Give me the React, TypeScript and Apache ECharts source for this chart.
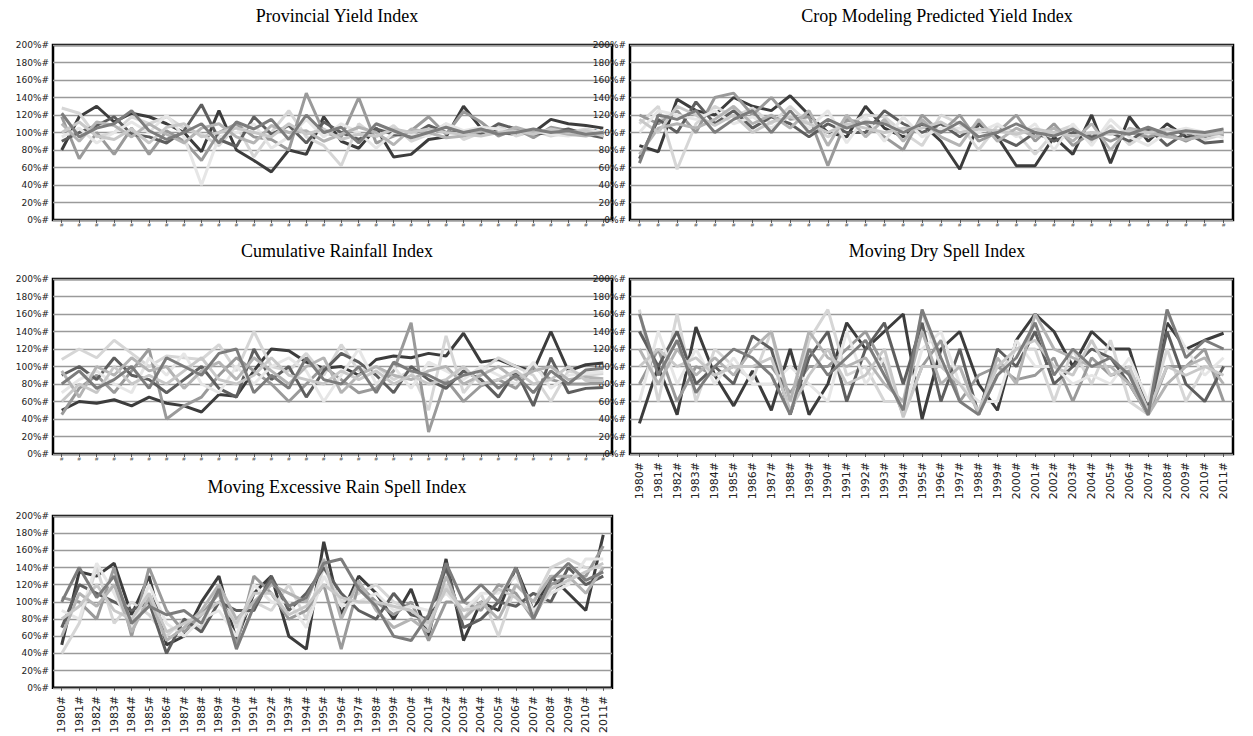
import { useEffect, useRef } from 'react';
import * as echarts from 'echarts';

const years = Array.from({ length: 32 }, (_, i) => String(1980 + i));
const yTicks = [0, 20, 40, 60, 80, 100, 120, 140, 160, 180, 200];

const titles = [
  'Provincial Yield Index',
  'Crop Modeling Predicted Yield Index',
  'Cumulative Rainfall Index',
  'Moving Dry Spell Index',
  'Moving Excessive Rain Spell Index',
];

const provincialYield = [
  [80,118,130,112,122,118,110,100,78,125,80,68,55,80,75,118,90,82,105,72,75,92,95,130,105,100,98,100,115,110,108,105],
  [128,122,95,100,118,110,118,105,98,85,108,72,100,125,95,85,62,110,95,108,90,98,110,92,100,108,96,102,96,100,104,100],
  [118,70,100,75,105,75,102,90,68,100,110,95,92,80,145,100,95,140,88,96,102,118,98,124,112,96,104,94,106,102,100,98],
  [90,100,108,118,98,95,88,102,132,92,84,118,98,108,88,112,100,92,104,98,96,108,100,100,98,110,104,98,100,104,98,94],
  [95,105,88,100,112,100,120,95,40,95,100,110,82,95,115,95,110,100,82,100,98,96,110,102,106,104,100,102,98,96,100,102],
  [110,90,112,108,95,110,98,88,105,110,95,88,108,100,102,90,98,106,100,86,104,100,94,96,102,98,106,100,102,98,96,100],
  [100,112,96,92,104,88,106,110,95,100,105,100,95,110,98,104,92,98,96,104,100,104,100,98,96,100,102,98,104,100,102,96],
  [122,95,105,110,125,102,92,100,110,88,112,104,115,92,120,100,106,88,110,102,94,100,106,100,104,98,100,104,100,102,98,100],
];

const cropModelYield = [
  [85,78,138,125,120,140,130,125,142,120,100,95,130,105,95,110,90,58,110,95,62,62,95,75,120,65,118,90,110,95,95,100],
  [110,130,58,110,130,118,128,110,130,110,95,108,120,118,100,85,120,110,80,108,100,75,100,108,88,108,86,100,96,104,92,98],
  [120,110,125,100,140,145,120,140,115,118,62,115,110,95,80,120,100,120,90,100,120,90,110,85,100,90,100,95,100,90,100,96],
  [70,115,100,135,110,125,105,118,110,95,110,100,100,125,110,100,110,95,110,95,85,100,90,100,95,100,90,105,85,100,88,90],
  [100,125,120,115,125,110,118,105,120,105,125,88,118,90,118,95,105,105,100,110,95,110,80,110,85,115,95,85,100,105,100,94],
  [75,105,110,105,115,130,110,120,105,125,85,120,95,115,90,115,95,85,115,90,105,95,105,90,110,80,105,100,95,92,96,100],
  [115,100,130,120,108,120,100,112,118,110,100,110,105,100,105,105,112,100,104,102,98,104,100,96,100,98,102,100,104,100,98,100],
  [65,120,115,125,100,115,125,100,125,100,115,105,112,110,100,110,100,112,95,100,110,100,96,104,92,102,98,106,98,102,100,104],
];

const cumulativeRainfall = [
  [50,60,58,62,55,65,58,55,48,68,66,95,120,118,105,98,100,90,108,112,110,115,112,138,105,108,100,95,140,95,102,104],
  [108,120,110,130,115,100,112,110,108,125,95,140,100,95,115,90,125,95,100,85,95,50,135,70,95,110,100,90,60,95,90,92],
  [45,75,90,70,95,120,40,55,65,90,110,95,80,60,80,100,85,70,75,95,150,25,85,60,78,85,75,100,85,80,80,82],
  [90,100,85,110,90,85,70,85,100,75,65,120,85,100,65,95,115,105,90,70,100,85,75,95,85,65,95,55,110,70,75,76],
  [70,85,95,80,70,110,90,115,80,70,100,80,100,110,95,60,90,120,80,100,75,105,95,85,100,90,80,105,75,90,92,94],
  [95,65,100,90,110,95,100,75,95,105,85,110,95,80,100,110,70,90,100,90,85,95,100,80,90,100,85,95,100,85,88,86],
  [60,80,70,100,80,90,80,95,110,85,80,90,110,90,85,80,95,85,95,80,90,80,85,100,80,85,95,80,85,100,84,84],
  [80,95,75,85,100,75,110,100,90,115,120,70,90,75,110,85,80,100,70,105,95,90,80,90,95,75,90,70,95,80,96,98],
];

const drySpell = [
  [35,100,45,145,90,55,95,50,120,45,80,150,120,140,160,40,120,140,80,50,130,160,140,100,140,120,120,50,150,120,130,138],
  [165,60,160,60,120,100,85,140,45,130,165,90,100,60,60,162,100,100,45,90,120,120,60,120,80,130,60,45,120,60,100,100],
  [80,120,60,100,90,100,100,100,70,100,100,120,140,100,45,100,130,60,90,100,85,90,110,60,110,90,95,45,100,100,120,60],
  [140,100,140,80,100,80,135,120,45,110,140,60,120,150,80,150,60,120,45,120,100,140,80,100,120,110,80,45,140,80,60,100],
  [60,140,80,120,80,110,80,80,100,80,60,140,80,110,45,120,140,80,60,60,130,100,100,80,90,80,110,60,160,120,90,110],
  [120,80,120,90,110,90,120,140,60,140,110,100,110,80,60,140,80,100,45,110,80,160,120,110,100,100,80,45,80,100,110,80],
  [100,120,100,110,90,100,100,110,50,90,120,80,90,120,42,100,100,80,50,100,120,130,100,90,130,90,100,50,100,90,100,90],
  [160,90,130,70,100,120,110,90,45,120,90,110,130,90,50,165,110,60,45,90,110,150,90,120,100,110,90,45,165,110,130,120],
];

const excessiveRain = [
  [50,135,130,145,85,130,50,60,100,130,55,110,130,60,45,170,85,130,110,80,115,60,150,55,100,90,140,90,130,110,90,178],
  [40,75,140,75,100,85,60,80,70,120,70,100,90,120,80,140,100,110,120,100,90,70,120,80,110,60,120,100,140,150,140,140],
  [105,100,80,140,60,140,90,65,85,110,50,130,110,80,90,120,45,120,100,85,100,55,100,100,90,120,110,80,120,130,130,165],
  [70,120,110,100,90,100,40,80,65,100,90,90,130,90,110,140,110,90,80,110,85,80,140,70,80,100,95,110,100,140,120,130],
  [90,80,145,110,70,120,75,60,80,90,60,120,100,100,70,130,95,100,110,90,95,90,110,90,110,110,130,90,110,120,150,150],
  [60,110,95,120,65,105,55,70,90,120,80,100,120,110,100,150,80,125,90,70,80,65,130,80,100,80,120,100,130,130,110,140],
  [80,95,120,90,80,110,65,75,85,100,75,110,110,85,95,120,105,100,100,95,90,75,115,90,95,115,105,85,115,125,135,145],
  [100,140,105,130,75,95,85,90,75,115,45,95,125,95,105,145,150,115,95,60,55,85,145,100,120,100,140,80,125,145,125,135],
];

const panels = [provincialYield, cropModelYield, cumulativeRainfall, drySpell, excessiveRain];
const shades = ['#3c3c3c', '#d6d6d6', '#9a9a9a', '#5e5e5e', '#e6e6e6', '#b4b4b4', '#c8c8c8', '#7c7c7c'];

// grid boxes [left, top, width, height] and title centres
const boxes = [
  [53, 45, 559, 175],
  [630, 45, 603, 175],
  [53, 279, 559, 175],
  [630, 279, 603, 175],
  [53, 516, 559, 175],
];
const titlePos = [[332, 2], [932, 2], [332, 237], [932, 237], [332, 473]];
const yearLabels = [false, false, false, true, true];

export default function App() {
  const ref = useRef<HTMLDivElement>(null);

  useEffect(() => {
    document.body.style.margin = '0';
    if (!ref.current) return;
    const chart = echarts.init(ref.current, null, { renderer: 'svg' });

    const series: any[] = [];
    panels.forEach((rows, p) => {
      rows.forEach((vals, i) => {
        series.push({
          type: 'line',
          xAxisIndex: p,
          yAxisIndex: p,
          data: vals,
          symbol: 'none',
          lineStyle: { color: shades[i % shades.length], width: 3 },
          z: 2,
        });
      });
    });

    chart.setOption({
      animation: false,
      title: titles.map((t, i) => ({
        text: t,
        left: titlePos[i][0],
        top: titlePos[i][1],
        textAlign: 'center',
        textStyle: { fontFamily: 'Liberation Serif', fontSize: 18, fontWeight: 'normal', color: '#000' },
      })),
      grid: boxes.map(([l, t, w, h]) => ({
        left: l, top: t, width: w, height: h,
        show: true, borderColor: '#000', borderWidth: 2.5, backgroundColor: '#fff',
      })),
      xAxis: boxes.map((_, i) => ({
        type: 'category',
        gridIndex: i,
        data: years,
        boundaryGap: true,
        axisLine: { show: false },
        axisTick: { show: true, alignWithLabel: true, length: 3, lineStyle: { color: '#555' } },
        axisLabel: yearLabels[i]
          ? { rotate: 90, interval: 0, fontFamily: 'DejaVu Sans', fontSize: 11, color: '#222', formatter: (v: string) => v + '#' }
          : { interval: 0, fontSize: 6, color: '#555', margin: 2, formatter: () => '#' },
      })),
      yAxis: boxes.map((_, i) => ({
        type: 'value',
        gridIndex: i,
        min: 0,
        max: 200,
        interval: 20,
        axisLine: { show: false },
        axisTick: { show: false },
        splitLine: { lineStyle: { color: '#9a9a9a', width: 1.3 } },
        axisLabel: {
          fontFamily: 'DejaVu Sans',
          fontSize: 9,
          color: '#222',
          margin: 4,
          formatter: (v: number) => (yTicks.includes(v) ? v + '%#' : ''),
        },
      })),
      series,
    });

    return () => chart.dispose();
  }, []);

  return <div ref={ref} style={{ width: 1253, height: 736 }} />;
}
